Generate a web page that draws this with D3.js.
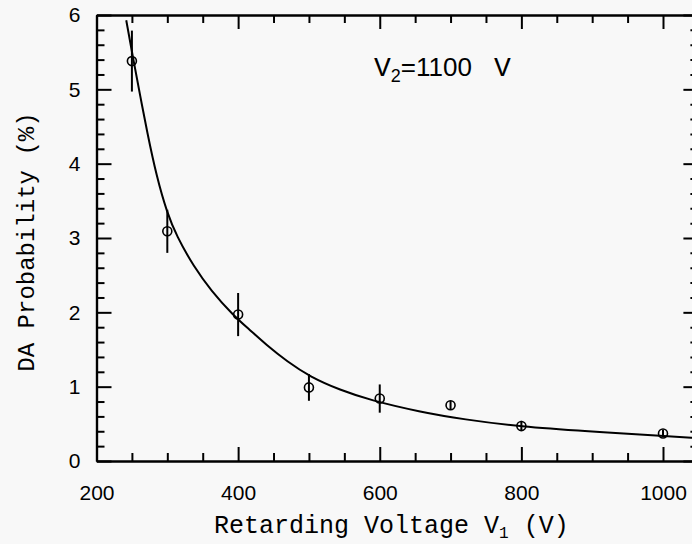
<!DOCTYPE html>
<html>
<head>
<meta charset="utf-8">
<script src="https://cdn.jsdelivr.net/npm/d3@7"></script>
<style>
  html, body { margin: 0; padding: 0; background: #f8f8f8; }
  svg { display: block; }
  .tickText { font-family: "Liberation Sans", Arial, sans-serif; font-size: 21px; fill: #000; }
  .titleText { font-family: "Liberation Mono", "Courier New", monospace; fill: #000; }
</style>
</head>
<body>
<div id="chart"></div>
<script>

// measured points: retarding voltage V1 (V), DA probability (%), error (+/-)
var voltages    = [250, 300, 400, 500, 600, 700, 800, 1000];
var probability = [5.38, 3.09, 1.97, 0.99, 0.84, 0.75, 0.47, 0.37];
var errors      = [0.41, 0.29, 0.29, 0.18, 0.19, 0.06, 0.07, 0.05];

// fitted curve
var fitVoltage     = [242, 252, 262, 271, 285, 300, 313, 337, 362, 393, 417, 440, 469, 502, 544, 586, 657, 718, 800, 892, 1000, 1048];
var fitProbability = [5.93, 5.40, 4.90, 4.45, 3.82, 3.33, 3.03, 2.62, 2.29, 1.96, 1.76, 1.56, 1.34, 1.13, 0.955, 0.82, 0.66, 0.56, 0.46, 0.40, 0.336, 0.31];

var xTickLabels = [200, 400, 600, 800, 1000];
var xMinorTicks = [250, 300, 350, 450, 500, 550, 650, 700, 750, 850, 900, 950, 1050];
var yTickLabels = [0, 1, 2, 3, 4, 5, 6];
var yMinorTicks = [];
yTickLabels.forEach(function(t){
  if (t < 6) { [0.2, 0.4, 0.6, 0.8].forEach(function(f){ yMinorTicks.push(+(t + f).toFixed(1)); }); }
});

var width = 692, height = 544;
var plot = {left: 96.5, right: 698.4, top: 15, bottom: 461};

var svg = d3.select("#chart").append("svg")
  .attr("width", width)
  .attr("height", height);

svg.append("rect").attr("width", width).attr("height", height).attr("fill", "#f8f8f8");

var x = d3.scaleLinear().domain([200, 1050]).range([plot.left, plot.right]);
var y = d3.scaleLinear().domain([0, 6]).range([plot.bottom, plot.top]);

var majorLen = 14, minorLen = 8;

function styleAxis(g){
  g.selectAll("path.domain").attr("stroke", "#000").attr("stroke-width", 2.2);
  g.selectAll(".tick line").attr("stroke", "#000").attr("stroke-width", 2);
  g.selectAll(".tick text").attr("class", "tickText").attr("font-family", null).attr("font-size", null);
}

// bottom
svg.append("g").attr("transform", "translate(0," + plot.bottom + ")")
  .call(d3.axisBottom(x).tickValues(xMinorTicks).tickSizeInner(-minorLen).tickSizeOuter(0).tickFormat(""))
  .call(styleAxis);
svg.append("g").attr("transform", "translate(0," + plot.bottom + ")")
  .call(d3.axisBottom(x).tickValues(xTickLabels).tickSizeInner(-majorLen).tickSizeOuter(0).tickPadding(24).tickFormat(d3.format("d")))
  .call(styleAxis);

// top
svg.append("g").attr("transform", "translate(0," + plot.top + ")")
  .call(d3.axisTop(x).tickValues(xMinorTicks).tickSizeInner(-minorLen).tickSizeOuter(0).tickFormat(""))
  .call(styleAxis);
svg.append("g").attr("transform", "translate(0," + plot.top + ")")
  .call(d3.axisTop(x).tickValues(xTickLabels).tickSizeInner(-majorLen).tickSizeOuter(0).tickFormat(""))
  .call(styleAxis);

// left
svg.append("g").attr("transform", "translate(" + plot.left + ",0)")
  .call(d3.axisLeft(y).tickValues(yMinorTicks).tickSizeInner(-minorLen).tickSizeOuter(0).tickFormat(""))
  .call(styleAxis);
svg.append("g").attr("transform", "translate(" + plot.left + ",0)")
  .call(d3.axisLeft(y).tickValues(yTickLabels).tickSizeInner(-majorLen - 1).tickSizeOuter(0).tickPadding(16).tickFormat(d3.format("d")))
  .call(styleAxis);

// right
svg.append("g").attr("transform", "translate(" + plot.right + ",0)")
  .call(d3.axisRight(y).tickValues(yMinorTicks).tickSizeInner(-minorLen).tickSizeOuter(0).tickFormat(""))
  .call(styleAxis);
svg.append("g").attr("transform", "translate(" + plot.right + ",0)")
  .call(d3.axisRight(y).tickValues(yTickLabels).tickSizeInner(-majorLen - 1).tickSizeOuter(0).tickFormat(""))
  .call(styleAxis);

// fit curve
var fitData = fitVoltage.map(function(v, i){ return [v, fitProbability[i]]; });
var line = d3.line()
  .x(function(d){ return x(d[0]); })
  .y(function(d){ return y(d[1]); })
  .curve(d3.curveBasis);

svg.append("path")
  .datum(fitData)
  .attr("d", line)
  .attr("fill", "none")
  .attr("stroke", "#000")
  .attr("stroke-width", 2);

// data points with error bars
var points = voltages.map(function(v, i){ return {v: v, p: probability[i], e: errors[i]}; });

var pts = svg.append("g").selectAll("g")
  .data(points)
  .enter().append("g");

pts.append("line")
  .attr("x1", function(d){ return x(d.v); })
  .attr("x2", function(d){ return x(d.v); })
  .attr("y1", function(d){ return y(d.p + d.e); })
  .attr("y2", function(d){ return y(d.p - d.e); })
  .attr("stroke", "#000")
  .attr("stroke-width", 2);

pts.append("circle")
  .attr("cx", function(d){ return x(d.v); })
  .attr("cy", function(d){ return y(d.p); })
  .attr("r", 4.5)
  .attr("fill", "none")
  .attr("stroke", "#000")
  .attr("stroke-width", 1.6);

// annotation
var note = svg.append("text")
  .attr("x", 374)
  .attr("y", 76)
  .attr("fill", "#000");
note.append("tspan").attr("font-family", "Liberation Mono, monospace").attr("font-size", 28).text("V");
note.append("tspan").attr("font-family", "Liberation Sans, sans-serif").attr("font-size", 18).attr("dy", 6).text("2");
note.append("tspan").attr("font-family", "Liberation Sans, sans-serif").attr("font-size", 26).attr("dy", -6).text("=1100");
note.append("tspan").attr("font-family", "Liberation Mono, monospace").attr("font-size", 28).attr("x", 494).text("V");

// axis titles
var xTitle = svg.append("text")
  .attr("class", "titleText")
  .style("font-size", "25px")
  .attr("x", 214)
  .attr("y", 533);
xTitle.append("tspan").text("Retarding Voltage V");
xTitle.append("tspan").style("font-size", "16px").attr("dy", 5).text("1");
xTitle.append("tspan").attr("dy", -5).text(" (V)");

svg.append("text")
  .attr("class", "titleText")
  .style("font-size", "24px")
  .attr("transform", "translate(34," + ((112 + 372) / 2) + ") rotate(-90)")
  .attr("text-anchor", "middle")
  .text("DA Probability (%)");

</script>
</body>
</html>
